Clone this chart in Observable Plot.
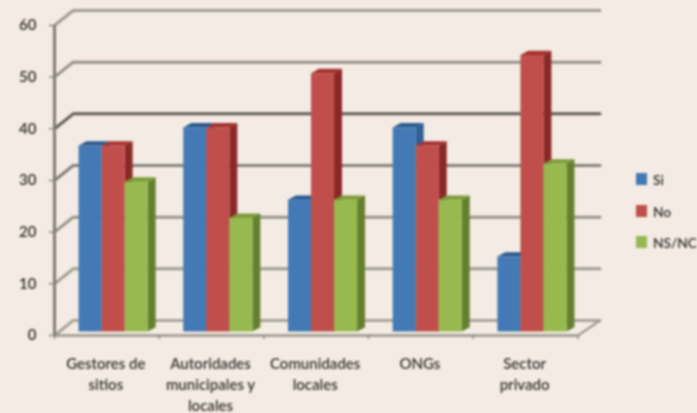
<!DOCTYPE html>
<html><head><meta charset="utf-8">
<script src="https://cdn.jsdelivr.net/npm/d3@7"></script>
<script src="https://cdn.jsdelivr.net/npm/@observablehq/plot@0.6"></script>
<style>
html,body{margin:0;padding:0;background:#f4ece4;width:697px;height:413px;overflow:hidden}
#c{position:relative;width:697px;height:413px;filter:blur(0.85px)}
#c svg{position:absolute;left:0;top:0;background:transparent}
#leg{position:absolute;left:636px;top:173px;font:600 13.7px Lato,sans-serif;color:#2e2c2a}
#leg div{position:absolute;left:0;height:14px;line-height:14px;white-space:nowrap}
#leg i{position:absolute;left:0;top:0;width:11px;height:12px}
#leg span{position:absolute;left:17px;top:0}
</style></head><body><div id="c"></div>
<script>
const categories=["Gestores de\nsitios","Autoridades\nmunicipales y\nlocales","Comunidades\nlocales","ONGs","Sector\nprivado"];
const seriesNames=["Si","No","NS/NC"];
const si=[36,39.5,25.5,39.5,14.5];
const no=[36,39.5,50,36,53.5];
const nsnc=[29,22,25.5,25.5,32.5];
const yTicks=[0,10,20,30,40,50,60];
const frontColors=["#4379b4","#c04e4a","#97b94f"];
const topColors=["#27598f","#a5302d","#7c9a38"];
const sideColors=["#2f6096","#8a2826","#64802e"];
const gridColors=["#a8a498","#a09c92","#98948a","#85817a","#5f5b55","#94908a","#a09c92"];

const series=[si,no,nsnc];
const wallDx=0.178, wallDy=2.9;
const barStart=0.23, barW=0.22, barDx=0.076, barDy=0.85, base=0.77;

const polys=[];
categories.forEach((_,c)=>{
  series.forEach((vals,s)=>{
    const x0=c+barStart+s*barW, x1=x0+barW, v=vals[c]+base, id=`${c}-${s}`;
    const add=(face,color,pts)=>pts.forEach(([x,y])=>polys.push({id:id+face,color,x,y}));
    add("side",sideColors[s],[[x1,base],[x1,v],[x1+barDx,v+barDy],[x1+barDx,base+barDy]]);
    add("top",topColors[s],[[x0,v],[x1,v],[x1+barDx,v+barDy],[x0+barDx,v+barDy]]);
    add("front",frontColors[s],[[x0,base],[x0,v],[x1,v],[x1,base]]);
  });
});
const grid=yTicks.flatMap((v,i)=>[
  {k:v,x:0,y:v,i},{k:v,x:wallDx,y:v+wallDy,i},{k:v,x:5.21,y:v+wallDy,i}
]);

const chart=Plot.plot({
  width:697,height:413,
  marginLeft:0,marginRight:0,marginTop:0,marginBottom:0,
  x:{type:"linear",domain:[0,6],range:[54,54+6*104.7],axis:null},
  y:{type:"linear",domain:[0,60],range:[335,25],axis:null},
  style:{background:"transparent"},
  marks:[
    ...yTicks.map((v,i)=>Plot.line(grid.filter(d=>d.k===v),{x:"x",y:"y",stroke:gridColors[i],strokeWidth:3})),
    Plot.line([{x:5,y:0},{x:5.21,y:wallDy}],{x:"x",y:"y",stroke:"#a09c92",strokeWidth:2.2}),
    Plot.line(polys,{x:"x",y:"y",z:"id",fill:"color",stroke:null}),
    Plot.ruleY([0],{x1:0,x2:5,stroke:"#98948a",strokeWidth:2.6}),
    Plot.ruleX([0],{y1:0,y2:60,stroke:"#7f7c74",strokeWidth:3}),
    Plot.ruleX([0,1,2,3,4,5],{y1:-0.8,y2:0,stroke:"#8a877f",strokeWidth:1.4}),
    Plot.ruleY(yTicks,{x1:-0.05,x2:0,stroke:"#87847c",strokeWidth:1.4}),
    Plot.text(yTicks,{x:0,y:d=>d,text:d=>String(d),dx:-18,textAnchor:"end",
      fontSize:15,fontWeight:600,fontFamily:"Lato, sans-serif",fill:"#2e2c2a"}),
    Plot.text(categories,{x:(d,i)=>i+0.49,y:0,text:d=>d,dy:19,lineAnchor:"top",lineHeight:1.4,
      fontSize:15,fontWeight:600,letterSpacing:"0.2px",fontFamily:"Lato, sans-serif",fill:"#33312e"})
  ]
});
document.getElementById("c").appendChild(chart);
const leg=document.createElement("div");leg.id="leg";
seriesNames.forEach((n,i)=>{
  const r=document.createElement("div");r.style.top=(i*31.5)+"px";
  r.innerHTML=`<i style="background:${frontColors[i]}"></i><span>${n}</span>`;
  leg.appendChild(r);
});
document.getElementById("c").appendChild(leg);
</script></body></html>
